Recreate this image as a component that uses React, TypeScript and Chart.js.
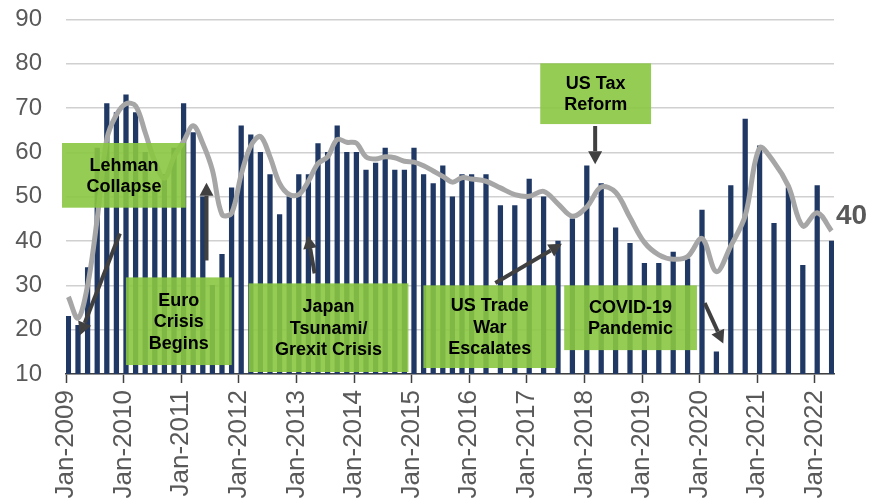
import React, { useEffect, useRef } from 'react';
import { Chart, registerables } from 'chart.js';

Chart.register(...registerables);

// Survey dates: bi-monthly to end-2015, quarterly afterwards
const periods = [
  '2009-01', '2009-03', '2009-05', '2009-07', '2009-09', '2009-11',
  '2010-01', '2010-03', '2010-05', '2010-07', '2010-09', '2010-11',
  '2011-01', '2011-03', '2011-05', '2011-07', '2011-09', '2011-11',
  '2012-01', '2012-03', '2012-05', '2012-07', '2012-09', '2012-11',
  '2013-01', '2013-03', '2013-05', '2013-07', '2013-09', '2013-11',
  '2014-01', '2014-03', '2014-05', '2014-07', '2014-09', '2014-11',
  '2015-01', '2015-03', '2015-05', '2015-07', '2015-09', '2015-11',
  '2016-01', '2016-04', '2016-07', '2016-10',
  '2017-01', '2017-04', '2017-07', '2017-10',
  '2018-01', '2018-04', '2018-07', '2018-10',
  '2019-01', '2019-04', '2019-07', '2019-10',
  '2020-01', '2020-04', '2020-07', '2020-10',
  '2021-01', '2021-04', '2021-07', '2021-10',
  '2022-01', '2022-04',
];

const barValues = [
  23, 21, 34, 61, 71, 69,
  73, 69, 60, 52, 55, 61,
  71, 64.5, 50, 30, 37, 52,
  66, 64, 60, 55, 46, 50,
  55, 55, 62, 60, 66, 60,
  60, 56, 57.6, 61, 56, 56,
  61, 55, 53, 57, 50, 55,
  55, 55, 48, 48,
  54, 50, 40, 45,
  57, 53, 43, 39.5,
  35, 35, 37.5, 36,
  47, 15, 52.5, 67.5,
  61.5, 44, 52, 34.5,
  52.5, 40,
];

const lineValues = [
  27.4, 22.6, 30, 45, 63, 68.5,
  71, 70.5, 64.5, 58, 54.2, 59,
  62.5, 66, 62, 56, 46, 46.3,
  55, 61.5, 63.6, 59, 53, 50.5,
  50.5, 53.5, 57.5, 59, 62.9, 62.3,
  62.1, 59, 58.5, 59, 58.8, 58,
  57.8, 57, 55.8, 54.6, 53.3, 54.3,
  54, 53.5, 52, 50.5,
  50.1, 51.2, 48.4, 45.6,
  47.7, 52.2, 51, 45.3,
  39.7, 36.9, 35.9, 36.5,
  40.6, 33.1, 38.9, 45.7,
  61, 57.8, 52.4, 43.4,
  46.4, 42.3,
];

const xTickLabels = [
  'Jan-2009', 'Jan-2010', 'Jan-2011', 'Jan-2012', 'Jan-2013', 'Jan-2014', 'Jan-2015',
  'Jan-2016', 'Jan-2017', 'Jan-2018', 'Jan-2019', 'Jan-2020', 'Jan-2021', 'Jan-2022',
];

// annotation layout in data units (x: months since Jan-2009, y: value)
const noteBoxes = [
  { lines: ['Lehman', 'Collapse'], x0: -0.83, x1: 24.96, y0: 62.13, y1: 47.53 },
  { lines: ['Euro', 'Crisis', 'Begins'], x0: 12.48, x1: 34.53, y0: 31.8, y1: 12.02 },
  { lines: ['Japan', 'Tsunami/', 'Grexit Crisis'], x0: 38.06, x1: 71.34, y0: 30.45, y1: 10.45 },
  { lines: ['US Trade', 'War', 'Escalates'], x0: 74.46, x1: 102.13, y0: 30.0, y1: 11.35 },
  { lines: ['COVID-19', 'Pandemic'], x0: 103.79, x1: 131.45, y0: 30.0, y1: 15.39 },
  { lines: ['US Tax', 'Reform'], x0: 98.8, x1: 121.89, y0: 80.11, y1: 66.4 },
];

const noteArrows = [
  { fx: 11.23, fy: 41.69, tx: 2.91, ty: 18.76 },
  { fx: 29.27, fy: 35.62, tx: 29.27, ty: 53.15 },
  { fx: 51.79, fy: 32.7, tx: 50.4, ty: 41.24 },
  { fx: 89.44, fy: 30.52, tx: 103.31, ty: 39.37 },
  { fx: 110.24, fy: 65.96, tx: 110.24, ty: 57.35 },
  { fx: 133.06, fy: 26.02, tx: 136.93, ty: 16.9 },
];

const lastLabelPos = { x: 160.4, y: 45.5 };

const FONT = '"Liberation Sans", Arial, Helvetica, sans-serif';

function monthPos(p: string): number {
  const [yy, mm] = p.split('-').map(Number);
  return (yy - 2009) * 12 + (mm - 1) + 0.5;
}

const notesPlugin = {
  id: 'notes',
  afterDatasetsDraw(chart: any) {
    const { ctx, scales } = chart;
    const x = scales.x;
    const y = scales.y;
    ctx.save();
    for (const b of noteBoxes) {
      const l = x.getPixelForValue(b.x0);
      const r = x.getPixelForValue(b.x1);
      const t = y.getPixelForValue(b.y0);
      const bt = y.getPixelForValue(b.y1);
      ctx.fillStyle = 'rgba(138,198,64,0.9)';
      ctx.fillRect(l, t, r - l, bt - t);
      ctx.fillStyle = '#000000';
      ctx.font = `bold 18px ${FONT}`;
      ctx.textAlign = 'center';
      ctx.textBaseline = 'middle';
      const cx = (l + r) / 2;
      const cy = (t + bt) / 2 + 1;
      const lh = 21.5;
      b.lines.forEach((s, i) => {
        ctx.fillText(s, cx, cy + (i - (b.lines.length - 1) / 2) * lh);
      });
    }
    ctx.strokeStyle = '#404040';
    ctx.fillStyle = '#404040';
    ctx.lineWidth = 4;
    for (const a of noteArrows) {
      const x1 = x.getPixelForValue(a.fx);
      const y1 = y.getPixelForValue(a.fy);
      const x2 = x.getPixelForValue(a.tx);
      const y2 = y.getPixelForValue(a.ty);
      const ang = Math.atan2(y2 - y1, x2 - x1);
      const hl = 13;
      const hw = 7;
      const bx = x2 - hl * Math.cos(ang);
      const by = y2 - hl * Math.sin(ang);
      ctx.beginPath();
      ctx.moveTo(x1, y1);
      ctx.lineTo(bx, by);
      ctx.stroke();
      ctx.beginPath();
      ctx.moveTo(x2, y2);
      ctx.lineTo(bx + hw * Math.sin(ang), by - hw * Math.cos(ang));
      ctx.lineTo(bx - hw * Math.sin(ang), by + hw * Math.cos(ang));
      ctx.closePath();
      ctx.fill();
    }
    ctx.fillStyle = '#595959';
    ctx.font = `bold 28px ${FONT}`;
    ctx.textAlign = 'left';
    ctx.textBaseline = 'middle';
    ctx.fillText(
      String(barValues[barValues.length - 1]),
      x.getPixelForValue(lastLabelPos.x),
      y.getPixelForValue(lastLabelPos.y)
    );
    ctx.restore();
  },
};

export default function App() {
  const canvasRef = useRef<HTMLCanvasElement | null>(null);

  useEffect(() => {
    if (!canvasRef.current) return;
    const xs = periods.map(monthPos);
    const chart = new Chart(canvasRef.current, {
      type: 'bar',
      data: {
        datasets: [
          {
            type: 'line',
            data: xs.map((v, i) => ({ x: v, y: lineValues[i] })),
            borderColor: '#A6A6A6',
            borderWidth: 5,
            pointRadius: 0,
            tension: 0.35,
            fill: false,
            order: 0,
          } as any,
          {
            type: 'bar',
            data: xs.map((v, i) => ({ x: v, y: barValues[i] })),
            backgroundColor: '#1F3864',
            barThickness: 4.6,
            order: 1,
          } as any,
        ],
      },
      options: {
        responsive: false,
        animation: false,
        layout: { padding: { top: 19.5, right: 35, left: 0, bottom: 0 } },
        plugins: {
          legend: { display: false },
          tooltip: { enabled: false },
        },
        scales: {
          x: {
            type: 'linear',
            min: 0,
            max: 160,
            offset: false,
            afterBuildTicks: (scale: any) => {
              scale.ticks = xTickLabels.map((_, i) => ({ value: i * 12 }));
            },
            afterFit: (scale: any) => {
              scale.height = 126;
            },
            grid: {
              display: true,
              offset: false,
              drawOnChartArea: false,
              drawTicks: true,
              tickLength: 9,
              tickColor: '#404040',
              tickWidth: 1.5,
            },
            border: { display: true, color: '#404040', width: 1.5 },
            ticks: {
              autoSkip: false,
              maxRotation: 90,
              minRotation: 90,
              padding: 7,
              color: '#595959',
              font: { family: FONT, size: 26 },
              callback: (v: any) => xTickLabels[Math.round(Number(v) / 12)] ?? '',
            },
          },
          y: {
            min: 10,
            max: 90,
            afterFit: (scale: any) => {
              scale.width = 66;
              scale.paddingTop = 0;
              scale.paddingBottom = 0;
            },
            grid: {
              color: '#D0D0D0',
              lineWidth: 1.5,
              drawTicks: false,
            },
            border: { display: false },
            ticks: {
              stepSize: 10,
              padding: 24,
              color: '#595959',
              font: { family: FONT, size: 24 },
            },
          },
        },
      },
      plugins: [notesPlugin],
    });
    return () => chart.destroy();
  }, []);

  return (
    <div style={{ position: 'fixed', left: 0, top: 0, width: 869, height: 500, background: '#fff' }}>
      <canvas ref={canvasRef} width={869} height={500} style={{ display: 'block' }} />
    </div>
  );
}
